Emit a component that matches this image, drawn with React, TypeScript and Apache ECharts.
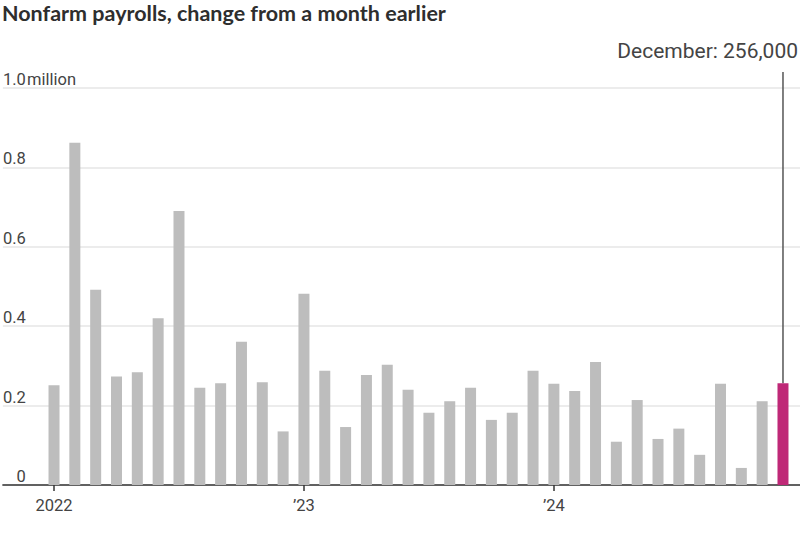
import React, { useEffect, useRef } from 'react';
import * as echarts from 'echarts';

const months = [
  'Jan 2022', 'Feb 2022', 'Mar 2022', 'Apr 2022', 'May 2022', 'Jun 2022',
  'Jul 2022', 'Aug 2022', 'Sep 2022', 'Oct 2022', 'Nov 2022', 'Dec 2022',
  'Jan 2023', 'Feb 2023', 'Mar 2023', 'Apr 2023', 'May 2023', 'Jun 2023',
  'Jul 2023', 'Aug 2023', 'Sep 2023', 'Oct 2023', 'Nov 2023', 'Dec 2023',
  'Jan 2024', 'Feb 2024', 'Mar 2024', 'Apr 2024', 'May 2024', 'Jun 2024',
  'Jul 2024', 'Aug 2024', 'Sep 2024', 'Oct 2024', 'Nov 2024', 'Dec 2024',
];

// change in nonfarm payrolls, thousands
const payrolls = [
  251, 862, 492, 273, 284, 420, 690, 245, 256, 361, 259, 135,
  482, 288, 146, 277, 303, 240, 182, 211, 245, 164, 182, 288,
  255, 237, 310, 109, 214, 116, 142, 76, 255, 43, 211, 256,
];

const yearTickLabels: Record<string, string> = {
  'Jan 2022': '2022',
  'Jan 2023': '\u201923',
  'Jan 2024': '\u201924',
};

const yTickLabels: Record<string, string> = {
  '0': '0',
  '0.2': '0.2',
  '0.4': '0.4',
  '0.6': '0.6',
  '0.8': '0.8',
  '1': '1.0',
};

const titleText = 'Nonfarm payrolls, change from a month earlier';
const annotationText = 'December: 256,000';
const unitText = 'million';

export default function App() {
  const ref = useRef<HTMLDivElement>(null);

  useEffect(() => {
    document.body.style.margin = '0';
    const chart = echarts.init(ref.current!, null, { renderer: 'svg' });
    const font = 'Roboto, sans-serif';
    const values = payrolls.map((v) => v / 1000);
    const last = values.length - 1;
    const labelColor = '#444';

    chart.setOption({
      animation: false,
      textStyle: { fontFamily: font },
      title: {
        text: titleText,
        left: 2,
        top: 2,
        padding: 0,
        textStyle: { fontFamily: 'Lato', fontWeight: 'bold', fontSize: 21.5, color: '#2e2e2e' },
      },
      grid: [
        { left: 0, right: 0, top: 88, bottom: 48 },
        { left: 43.6, right: 6.6, top: 88, bottom: 48 },
      ],
      xAxis: [
        {
          gridIndex: 0,
          type: 'value',
          min: 0,
          max: 1,
          axisLine: { show: true, lineStyle: { color: '#333', width: 1.5 } },
          axisTick: { show: false },
          axisLabel: { show: false },
          splitLine: { show: false },
        },
        {
          gridIndex: 1,
          type: 'category',
          data: months,
          axisLine: { show: false },
          axisTick: {
            show: true,
            alignWithLabel: true,
            length: 6,
            interval: (_i: number, v: string) => v in yearTickLabels,
            lineStyle: { color: '#333', width: 1.5 },
          },
          axisLabel: {
            interval: (_i: number, v: string) => v in yearTickLabels,
            formatter: (v: string) => yearTickLabels[v] ?? '',
            margin: 12,
            fontSize: 16.5,
            fontFamily: font,
            color: labelColor,
          },
        },
      ],
      yAxis: [
        {
          gridIndex: 0,
          type: 'value',
          min: 0,
          max: 1,
          interval: 0.2,
          axisLine: { show: false },
          axisTick: { show: false },
          splitLine: { show: true, lineStyle: { color: '#e6e6e6', width: 1.5 } },
          axisLabel: {
            formatter: (v: number) => yTickLabels[String(Math.round(v * 10) / 10)] ?? '',
            align: 'right',
            verticalAlign: 'bottom',
            margin: -23,
            fontSize: 16.5,
            fontFamily: font,
            color: labelColor,
          },
        },
        {
          gridIndex: 1,
          type: 'value',
          min: 0,
          max: 1,
          show: false,
          splitLine: { show: false },
        },
      ],
      series: [
        {
          type: 'bar',
          xAxisIndex: 1,
          yAxisIndex: 1,
          barWidth: 11,
          data: values.map((v, i) => ({
            value: v,
            itemStyle: { color: i === last ? '#bf2877' : '#bdbdbd' },
          })),
        },
      ],
    });

    const [bx, by] = chart.convertToPixel({ xAxisIndex: 1, yAxisIndex: 1 }, [last, values[last]]) as number[];
    const [, yTop] = chart.convertToPixel({ xAxisIndex: 0, yAxisIndex: 0 }, [0, 1]) as number[];

    chart.setOption({
      graphic: [
        {
          type: 'text',
          x: 27,
          y: yTop,
          style: {
            text: unitText,
            fill: labelColor,
            font: `16.5px ${font}`,
            align: 'left',
            verticalAlign: 'bottom',
          },
        },
        {
          type: 'line',
          shape: { x1: bx, y1: 72, x2: bx, y2: by },
          style: { stroke: '#555', lineWidth: 1.5 },
        },
        {
          type: 'text',
          x: 798,
          y: 51,
          style: {
            text: annotationText,
            fill: labelColor,
            font: `21px ${font}`,
            align: 'right',
            verticalAlign: 'middle',
          },
        },
      ],
    });

    return () => chart.dispose();
  }, []);

  return <div ref={ref} style={{ width: 800, height: 533 }} />;
}
